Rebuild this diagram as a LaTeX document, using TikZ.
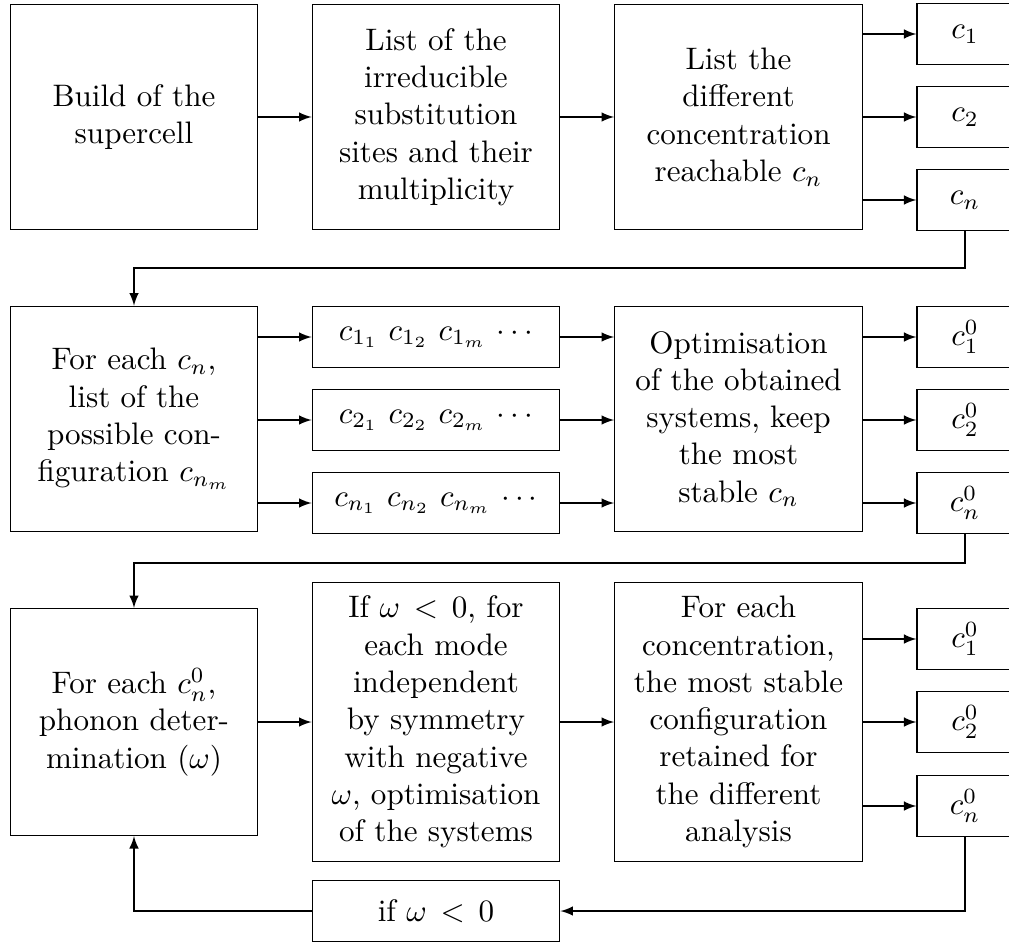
\documentclass[tikz,border=0pt]{standalone}
\usetikzlibrary{positioning}
\begin{document}
\begin{tikzpicture}[
			x=0.0113cm, y=-0.0113cm,
			>=latex,
			bigbox/.style={draw, align=center, minimum width=2.8cm, minimum height=2.55cm},
			tallbox/.style={draw, align=center, minimum width=2.8cm, minimum height=3.16cm},
			longbox/.style={draw, align=center, minimum width=2.8cm, minimum height=0.69cm},
			conc/.style={draw, minimum width=1.085cm, minimum height=0.69cm}
		]
		\useasboundingbox (0,0) rectangle (1009,945);
		% first row
		\node[bigbox] (build) at (134,117) {Build of the\\supercell};
		\node[bigbox] (sites) at (436,117) {List of the\\irreducible\\substitution\\sites and their\\multiplicity};
		\node[bigbox] (reach) at (738.5,117) {List the\\different\\concentration\\reachable $c_n$};
		\node[conc] (c1) at (965,34) {$c_1$};
		\node[conc] (c2) at (965,117) {$c_2$};
		\node[conc] (cn) at (965,200) {$c_n$};
		% second row
		\node[bigbox] (confs) at (134,419) {For each $c_n$,\\list of the\\possible con-\\figuration $c_{n_m}$};
		\node[longbox] (m1) at (436,337) {$c_{1_1}$ $c_{1_2}$ $c_{1_m}$ $\cdots$};
		\node[longbox] (m2) at (436,420) {$c_{2_1}$ $c_{2_2}$ $c_{2_m}$ $\cdots$};
		\node[longbox] (mn) at (436,503) {$c_{n_1}$ $c_{n_2}$ $c_{n_m}$ $\cdots$};
		\node[bigbox] (optim) at (738.5,419) {Optimisation\\of the obtained\\systems, keep\\the most\\stable $c_n$};
		\node[conc] (s1) at (965,337) {$c_1^0$};
		\node[conc] (s2) at (965,420) {$c_2^0$};
		\node[conc] (sn) at (965,503) {$c_n^0$};
		% third row
		\node[draw, align=center, minimum width=2.8cm, minimum height=2.565cm] (phonon) at (134,722) {For each $c_n^0$,\\phonon deter-\\mination ($\omega$)};
		\node[tallbox] (negw) at (436,722) {If $\omega\,<\,0$, for\\each mode\\independent\\by symmetry\\with negative\\$\omega$, optimisation\\of the systems};
		\node[tallbox] (final) at (738.5,722) {For each\\concentration,\\the most stable\\configuration\\retained for\\the different\\analysis};
		\node[conc] (f1) at (965,639) {$c_1^0$};
		\node[conc] (f2) at (965,722) {$c_2^0$};
		\node[conc] (fn) at (965,806) {$c_n^0$};
		\node[longbox] (loop) at (436,911) {if $\omega\,<\,0$};
		% arrows
		\draw[->] (build) -- (sites);
		\draw[->] (sites) -- (reach);
		\foreach \c in {c1,c2,cn}
			\draw[->] (reach.east |- \c) -- (\c);
		\draw[->] (cn.south) |- (134,268) -- (confs.north);
		\foreach \m/\s in {m1/s1,m2/s2,mn/sn} {
				\draw[->] (confs.east |- \m) -- (\m);
				\draw[->] (\m) -- (optim.west |- \m);
				\draw[->] (optim.east |- \s) -- (\s);
			}
		\draw[->] (sn.south) |- (134,563) -- (phonon.north);
		\draw[->] (phonon) -- (phonon -| negw.west);
		\draw[->] (negw) -- (final);
		\foreach \c in {f1,f2,fn}
			\draw[->] (final.east |- \c) -- (\c);
		\draw[->] (fn.south) |- (loop.east);
		\draw[->] (loop.west) -| (phonon.south);
	\end{tikzpicture}
\end{document}
